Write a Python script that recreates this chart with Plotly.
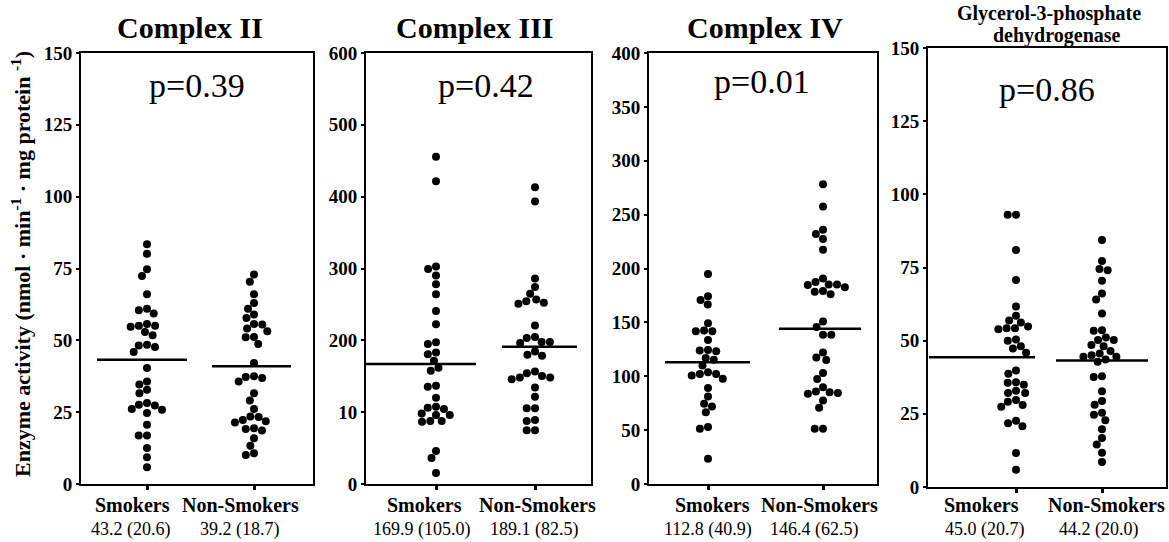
import numpy as np
import plotly.graph_objects as go

W, H = 1169, 542

# ---------------- data ----------------
groups = ["Smokers", "Non-Smokers"]

c2_smokers = [83.4, 80.1, 74.7, 72.4, 66.0, 61.0, 60.5, 59.3, 55.7, 55.1, 54.7, 55.1, 52.9, 51.8,
              48.2, 48.5, 47.7, 45.9, 40.4, 35.7, 34.6, 32.8, 31.6, 27.6, 28.2, 27.3, 25.8, 24.7,
              26.1, 20.6, 16.9, 16.9, 12.5, 9.3, 5.8]
c2_nonsmokers = [72.9, 70.4, 66.0, 63.0, 61.0, 59.0, 57.8, 55.7, 55.5, 54.1, 53.2, 51.2, 51.1, 48.7,
                 42.1, 36.9, 37.5, 35.7, 37.2, 31.6, 29.1, 26.1, 23.5, 23.3, 22.3, 21.8, 21.4, 19.1,
                 19.4, 18.6, 15.9, 13.3, 10.7, 10.1]
c2_lines = [43.2, 41.0]
c2_stats = ["43.2 (20.6)", "39.2 (18.7)"]

c3_smokers = [455.4, 421.5, 302.9, 299.2, 290.3, 278.2, 264.3, 241.0, 222.4, 197.3, 195.0, 180.6,
              182.9, 171.7, 162.0, 157.8, 135.5, 136.9, 120.1, 107.6, 104.3, 106.2, 98.3, 96.0,
              96.0, 87.6, 86.7, 87.6, 45.8, 36.1, 15.4]
c3_nonsmokers = [413.0, 393.4, 286.2, 274.1, 264.7, 252.2, 254.5, 256.8, 250.8, 220.5, 204.6, 203.2,
                 197.6, 196.2, 197.6, 179.9, 184.6, 178.5, 156.6, 154.3, 148.2, 148.2, 150.5, 145.9,
                 134.2, 121.6, 105.3, 105.3, 89.0, 87.6, 75.0, 75.0]
c3_lines = [167.0, 191.0]
c3_stats = ["169.9 (105.0)", "189.1 (82.5)"]

c4_smokers = [194.9, 170.8, 174.2, 166.5, 149.2, 141.8, 141.8, 142.4, 133.7, 123.8, 124.4, 123.2,
              115.2, 117.0, 109.9, 102.2, 103.8, 100.7, 102.2, 97.6, 89.2, 81.2, 71.9, 74.4, 66.7,
              52.8, 51.2, 23.4]
c4_nonsmokers = [278.2, 257.6, 236.0, 232.0, 227.4, 217.5, 190.8, 187.4, 184.6, 185.2, 185.2, 182.7,
                 179.1, 178.5, 176.0, 150.7, 145.8, 138.4, 138.4, 122.1, 117.5, 115.0, 103.0, 97.5,
                 89.8, 84.5, 85.2, 83.7, 85.8, 77.5, 70.7, 51.3, 51.3]
c4_lines = [113.0, 144.0]
c4_stats = ["112.8 (40.9)", "146.4 (62.5)"]

g3p_smokers = [93.0, 93.0, 81.0, 70.7, 61.7, 58.5, 56.9, 56.2, 53.9, 54.2, 54.2, 54.8, 50.4, 50.0,
               48.1, 47.3, 45.9, 38.7, 39.8, 35.8, 34.9, 35.6, 32.1, 32.9, 32.1, 29.7, 29.1, 28.0,
               27.4, 21.8, 20.8, 22.6, 11.6, 5.9]
g3p_nonsmokers = [84.4, 77.2, 74.5, 74.1, 70.5, 64.1, 66.1, 59.3, 53.6, 53.4, 51.1, 50.2, 50.2, 48.1,
                  48.5, 46.5, 45.6, 45.0, 44.5, 44.5, 43.6, 42.8, 37.6, 37.8, 32.7, 29.4, 28.1, 25.4,
                  24.7, 22.8, 19.7, 16.7, 14.5, 11.7, 8.5]
g3p_lines = [44.3, 43.2]
g3p_stats = ["45.0 (20.7)", "44.2 (20.0)"]

titles = [["Complex II"], ["Complex III"], ["Complex IV"], ["Glycerol-3-phosphate", "dehydrogenase"]]
p_values = ["p=0.39", "p=0.42", "p=0.01", "p=0.86"]
y_label = "Enzyme activity (nmol · min<sup>-1</sup> · mg protein <sup>-1</sup>)"

y_max = [150, 600, 400, 150]
y_ticks = [[0, 25, 50, 75, 100, 125, 150],
           [0, 100, 200, 300, 400, 500, 600],
           [0, 50, 100, 150, 200, 250, 300, 350, 400],
           [0, 25, 50, 75, 100, 125, 150]]
y_ticktext = [["0", "25", "50", "75", "100", "125", "150"],
              ["0", "10", "200", "300", "400", "500", "600"],
              ["0", "50", "100", "150", "200", "250", "300", "350", "400"],
              ["0", "25", "50", "75", "100", "125", "150"]]

# ---------------- layout geometry (pixels) ----------------
boxes = [(81, 313, 53, 484), (366, 591, 53, 484), (649, 877, 53, 484), (928, 1166, 48, 487)]
cat_px = [(147, 254), (436, 535), (708, 823), (1016, 1102)]
label_px = [(132, 240), (424, 537), (712, 820), (981, 1106)]
stats_px = [(131, 240), (422, 534), (708, 814), (985, 1099)]
line_ext = [[(-50, 40), (-42, 37)], [(-70, 40), (-33, 42)],
            [(-43, 42), (-44, 38)], [(-87, 19), (-46, 46)]]
title_pos = [[(190, 28)], [(475, 28)], [(765, 28)], [(1049, 13), (1057, 36)]]
title_size = [30, 30, 30, 20]
p_pos = [(197, 86), (486, 86), (762, 82), (1047, 89)]
LABEL_Y, STATS_Y = 505, 529

series = [(c2_smokers, c2_nonsmokers, c2_lines, c2_stats),
          (c3_smokers, c3_nonsmokers, c3_lines, c3_stats),
          (c4_smokers, c4_nonsmokers, c4_lines, c4_stats),
          (g3p_smokers, g3p_nonsmokers, g3p_lines, g3p_stats)]

FONT = "Liberation Serif"


def swarm(vals, ypu, xpu, d=8.3):
    vals = np.asarray(vals, float)
    order = np.argsort(-vals, kind="stable")
    placed = []
    offs = np.zeros(len(vals))
    for i in order:
        y = vals[i] * ypu
        cands = [0.0]
        for (qx, qy) in placed:
            dy = abs(qy - y)
            if dy < d:
                dx = np.sqrt(d * d - dy * dy)
                cands += [qx + dx, qx - dx]
        cands.sort(key=lambda c: (abs(c), c))
        chosen = 0.0
        for c in cands:
            if all((c - qx) ** 2 + (y - qy) ** 2 >= d * d - 1e-6 for qx, qy in placed):
                chosen = c
                break
        placed.append((chosen, y))
        offs[i] = chosen / xpu
    return offs


def px2paper(x, y):
    return x / W, 1 - y / H


def add_text(annots, xpx, ypx, text, size, bold=False, angle=0):
    xp, yp = px2paper(xpx, ypx)
    annots.append(dict(x=xp, y=yp, xref="paper", yref="paper", text=text, textangle=angle,
                       showarrow=False, xanchor="center", yanchor="middle", borderpad=0,
                       font=dict(family=FONT, size=size, color="black",
                                 weight="bold" if bold else "normal")))


fig = go.Figure()
annotations = []

for k in range(4):
    x0, x1, y0, y1 = boxes[k]
    c0, c1 = cat_px[k]
    unit = c1 - c0
    a = -(c0 - x0) / unit
    b = (x1 - c0) / unit
    xpu = unit
    ypu = (y1 - y0) / y_max[k]
    ax = "" if k == 0 else str(k + 1)
    xa, ya = "x" + ax, "y" + ax
    smk, non, lines, stats = series[k]
    for gi, vals in enumerate([smk, non]):
        offs = swarm(vals, ypu, xpu)
        fig.add_trace(go.Scatter(
            x=gi + offs, y=vals, mode="markers", xaxis=xa, yaxis=ya,
            marker=dict(color="black", size=8, line=dict(width=0)),
            showlegend=False, hoverinfo="y"))
        l0, l1 = line_ext[k][gi]
        fig.add_trace(go.Scatter(
            x=[gi + l0 / xpu, gi + l1 / xpu], y=[lines[gi], lines[gi]], mode="lines",
            xaxis=xa, yaxis=ya, line=dict(color="black", width=2.5),
            showlegend=False, hoverinfo="skip"))
        add_text(annotations, label_px[k][gi], LABEL_Y, groups[gi], 20, bold=True)
        add_text(annotations, stats_px[k][gi], STATS_Y, stats[gi], 18)

    dx0, dy1 = px2paper(x0, y1)
    dx1, dy0 = px2paper(x1, y0)
    axis_common = dict(showline=True, mirror=True, linecolor="black", linewidth=2,
                       showgrid=False, zeroline=False, fixedrange=True)
    fig.layout["xaxis" + ax] = dict(domain=[dx0, dx1], range=[a, b], anchor=ya,
                                    tickvals=[0, 1], ticks="outside", ticklen=4, tickwidth=3,
                                    tickcolor="black", showticklabels=False, **axis_common)
    fig.layout["yaxis" + ax] = dict(domain=[dy1, dy0], range=[0, y_max[k]], anchor=xa,
                                    tickvals=y_ticks[k], ticktext=y_ticktext[k],
                                    ticks="outside", ticklen=3, tickwidth=2, tickcolor="black",
                                    tickfont=dict(family=FONT, size=19, color="black", weight="bold"),
                                    **axis_common)
    for line_txt, (tx, ty) in zip(titles[k], title_pos[k]):
        add_text(annotations, tx, ty, line_txt, title_size[k], bold=True)
    add_text(annotations, p_pos[k][0], p_pos[k][1], p_values[k], 34)

add_text(annotations, 21, 264, y_label, 22, bold=True, angle=-90)

fig.update_layout(width=W, height=H, margin=dict(l=0, r=0, t=0, b=0, autoexpand=False),
                  paper_bgcolor="white", plot_bgcolor="white", annotations=annotations,
                  showlegend=False)

fig.write_html("out.html", config={"displayModeBar": False},
               post_script="document.body.style.margin='0px';")
